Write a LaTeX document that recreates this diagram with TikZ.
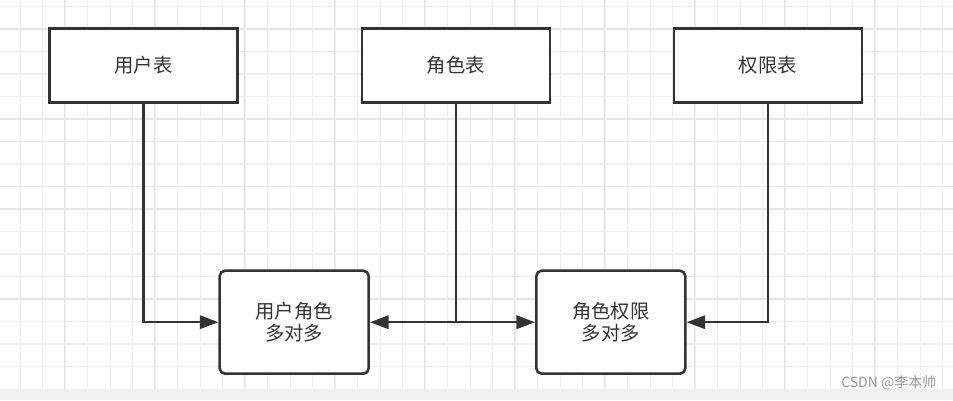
\documentclass[tikz,border=0pt]{standalone}
\usepackage{fontspec}
\setmainfont{Noto Sans CJK SC}[Script=CJK]
\usetikzlibrary{arrows.meta}

\begin{document}
\begin{tikzpicture}[x=0.75pt,y=-0.75pt]
    % Define colors
    \definecolor{gridminor}{RGB}{238,238,238}
    \definecolor{gridmajor}{RGB}{229,229,229}
    \definecolor{boxline}{RGB}{51,51,51}
    \definecolor{footgray}{RGB}{240,240,240}
    \definecolor{markgray}{RGB}{150,150,150}
    \tikzset{
        table/.style={draw=boxline, line width=1.9pt, fill=white, text=boxline,
            minimum width=141pt, minimum height=55.5pt, inner sep=0pt,
            font=\fontsize{14.5}{17}\selectfont},
        relation/.style={table, rounded corners=4pt, align=center,
            minimum width=111.75pt, minimum height=77.25pt},
        link/.style={draw=boxline, line width=1.9pt, -{Triangle[length=14pt,width=10pt]}}
    }
    \useasboundingbox (0,0) rectangle (953,400);

    % Draw background
    \fill[white] (0,0) rectangle (953,400);
    \foreach \gx in {0,...,41}
        \draw[gridminor, line width=0.8pt] ({20.2+22.5*\gx},0) -- ({20.2+22.5*\gx},389);
    \foreach \gy in {0,...,16}
        \draw[gridminor, line width=0.8pt] (0,{6.5+22.5*\gy}) -- (953,{6.5+22.5*\gy});
    \foreach \gx in {0,...,9}
        \draw[gridmajor, line width=0.8pt] ({64.7+90*\gx},0) -- ({64.7+90*\gx},389);
    \foreach \gy in {0,...,3}
        \draw[gridmajor, line width=0.8pt] (0,{29+90*\gy}) -- (953,{29+90*\gy});
    \fill[footgray] (0,389) rectangle (953,400);

    % Draw tables
    \node[table] (users) at (143.5,65.6) {用户表};
    \node[table] (roles) at (455.8,65.6) {角色表};
    \node[table] (perms) at (767.8,65.6) {权限表};

    % Draw relations
    \node[relation] (userrole) at (294.2,322.2) {用户角色\\多对多};
    \node[relation] (roleperm) at (610.8,322.2) {角色权限\\多对多};

    % Draw links
    \draw[link] (users.south) |- (userrole.west);
    \draw[link] (roles.south) |- (userrole.east);
    \draw[link] (roles.south) |- (roleperm.west);
    \draw[link] (perms.south) |- (roleperm.east);

    % Watermark
    \node[text=markgray, font=\fontsize{10.5}{12}\selectfont] (mark) at (888.8,382.5) {CSDN @李本帅};
\end{tikzpicture}
\end{document}
